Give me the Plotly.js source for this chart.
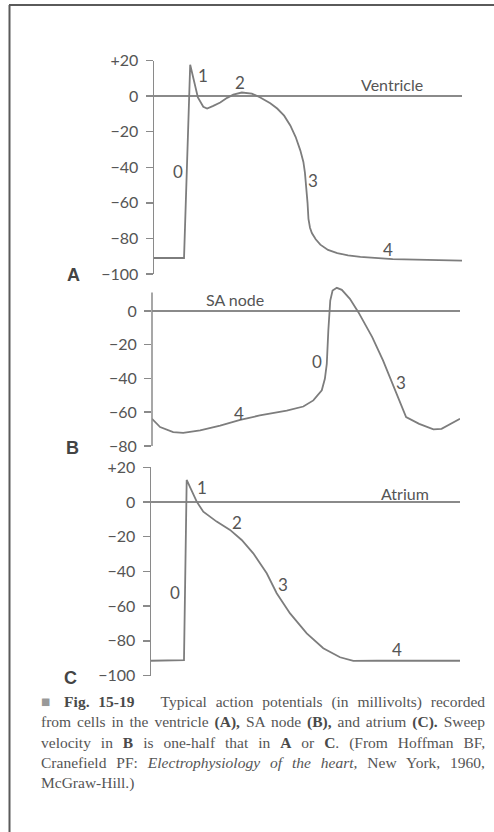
<!DOCTYPE html>
<html>
<head>
<meta charset="utf-8">
<script src="https://cdn.plot.ly/plotly-3.0.1.min.js"></script>
<style>
  html, body { margin: 0; padding: 0; background: #fff; }
  #wrap { position: relative; width: 494px; height: 832px; overflow: hidden; }
  #chart { position: absolute; left: 0; top: 0; width: 494px; height: 832px; }
  #caption { position: absolute; left: 41px; top: 692px; width: 444px;
    font-family: "Liberation Serif", "Times New Roman", serif; font-size: 15.5px;
    line-height: 20.3px; color: #555; }
  #caption .ln { text-align: justify; text-align-last: justify; white-space: nowrap; }
  #caption .last { text-align: left; text-align-last: left; }
  #caption .sq { color: #999; }
  #caption b { color: #4a4a4a; }
</style>
</head>
<body>
<div id="wrap">
  <div id="chart"></div>
  <div id="caption">
    <div class="ln"><span class="sq">&#9632;</span> <b>Fig. 15-19</b>&nbsp;&nbsp; Typical action potentials (in millivolts) recorded</div>
    <div class="ln">from cells in the ventricle <b>(A),</b> SA node <b>(B),</b> and atrium <b>(C).</b> Sweep</div>
    <div class="ln">velocity in <b>B</b> is one-half that in <b>A</b> or <b>C</b>. (From Hoffman BF,</div>
    <div class="ln">Cranefield PF: <i>Electrophysiology of the heart,</i> New York, 1960,</div>
    <div class="ln last">McGraw-Hill.)</div>
  </div>
</div>
<script>
// ---- Data (time in ms, membrane potential in mV) ----
// A: Ventricle
const ventTime = [0, 39, 47, 51, 57, 64, 69, 77, 86, 95, 103, 114, 127, 138, 151, 160, 169, 177, 184, 190, 194, 196, 198, 199.4, 200.6, 202.6, 205, 210, 216, 226, 238, 252, 268, 310, 400];
const ventMv   = [-91, -91, 17.6, 10.4, -0.8, -6, -7, -5.5, -3.6, -1, 0.8, 2, 1.4, -0.8, -4, -7, -11, -16.5, -23, -30.5, -37, -43, -52, -60, -69, -74, -77, -80.5, -83.5, -86.5, -88.2, -89.5, -90.4, -91.6, -92.5];
// B: SA node (sweep velocity one-half)
const saTime = [0, 21, 55, 81, 125, 177, 229, 280, 350, 393, 419, 441, 449, 454, 458, 463, 469, 480, 493, 514, 536, 572, 600, 628, 660, 694, 731, 752, 774, 800];
const saMv   = [-63.9, -68.8, -71.8, -72.2, -70.8, -67.9, -64.5, -61.9, -59, -56.6, -53, -47, -40.2, -31.3, -11.6, 6.2, 12.1, 13.7, 12.5, 7.2, -0.7, -15.5, -29.3, -45.1, -62.9, -66.9, -70.2, -69.8, -66.9, -63.9];
// C: Atrium
const atrTime = [0, 42.7, 46.2, 52.7, 59.2, 67.7, 85, 102.3, 117.4, 132.4, 149.8, 162.7, 180, 201.6, 223, 244.7, 261.9, 292.2, 400];
const atrMv   = [-91.5, -91.1, 12.7, 6.9, 0.2, -5.6, -11.3, -16.1, -21.9, -29.6, -41.1, -52.6, -64.2, -75.7, -84.3, -89.5, -91.6, -91.5, -91.5];

// Tick labels
const ticksAC = [20, 0, -20, -40, -60, -80, -100];
const ticksACText = ['+20', '0', '\u221220', '\u221240', '\u221260', '\u221280', '\u2212100'];
const ticksB = [0, -20, -40, -60, -80];
const ticksBText = ['0', '\u221220', '\u221240', '\u221260', '\u221280'];

// Phase labels [time, mV, text]
const phaseA = [[31, -42.3, '0'], [63.6, 11.5, '1'], [111.7, 7.6, '2'], [207, -47.3, '3'], [304, -86.5, '4']];
const phaseB = [[428.5, -29.9, '0'], [646, -42.4, '3'], [226, -60.7, '4']];
const phaseC = [[31, -52.4, '0'], [66, 8.1, '1'], [111.3, -12.1, '2'], [170.9, -47.8, '3'], [318.4, -85, '4']];
const names = [['Ventricle', 309, 5.3], ['SA node', 215.6, 5.6], ['Atrium', 328.8, 4]];

// ---- Styles ----
const W = 494, H = 832;
const px = v => v / W;
const py = v => (H - v) / H;
const lineCol = '#7d7d7d';
const axCol = '#8a8a8a';
const fam = 'Lato, "Noto Sans", sans-serif';
const tickFont = { family: fam, size: 16, color: '#555' };

const mk = (x, y, xa, ya) => ({
  x: x, y: y, xaxis: xa, yaxis: ya, type: 'scatter', mode: 'lines',
  line: { color: lineCol, width: 1.8 }, hoverinfo: 'skip', showlegend: false
});
const data = [
  mk(ventTime, ventMv, 'x', 'y'),
  mk(saTime, saMv, 'x2', 'y2'),
  mk(atrTime, atrMv, 'x3', 'y3')
];

const xBase = { showline: false, showticklabels: false, ticks: '', showgrid: false, zeroline: false, fixedrange: true };
const yBase = (vals, txt, range, dom, anchor, showline) => ({
  domain: dom, range: range, anchor: anchor,
  tickmode: 'array', tickvals: vals, ticktext: txt,
  ticks: 'outside', ticklen: 7, tickwidth: 1.5, tickcolor: axCol,
  tickfont: tickFont, ticklabelstandoff: 4,
  showline: showline, linecolor: axCol, linewidth: 1.5,
  zeroline: true, zerolinecolor: axCol, zerolinewidth: 1.5,
  showgrid: false, fixedrange: true
});

const annotations = [];
const addPhase = (arr, xr, yr) => arr.forEach(p => annotations.push({
  x: p[0], y: p[1], xref: xr, yref: yr, text: p[2], showarrow: false,
  font: { family: fam, size: 17, color: '#555' }, xanchor: 'center', yanchor: 'middle'
}));
addPhase(phaseA, 'x', 'y');
addPhase(phaseB, 'x2', 'y2');
addPhase(phaseC, 'x3', 'y3');
const refs = [['x', 'y'], ['x2', 'y2'], ['x3', 'y3']];
names.forEach((n, i) => annotations.push({
  x: n[1], y: n[2], xref: refs[i][0], yref: refs[i][1], text: n[0], showarrow: false, yshift: 2,
  font: { family: fam, size: 16, color: '#555' }, xanchor: 'center', yanchor: 'middle'
}));
[['A', 73, 275], ['B', 72, 448], ['C', 70, 678]].forEach(l => annotations.push({
  x: px(l[1]), y: py(l[2]), xref: 'paper', yref: 'paper', text: '<b>' + l[0] + '</b>', showarrow: false,
  font: { family: '"Liberation Sans", Arial, sans-serif', size: 18, color: '#444' }, xanchor: 'center', yanchor: 'middle'
}));

const layout = {
  width: W, height: H, margin: { l: 0, r: 0, t: 0, b: 0 },
  paper_bgcolor: '#fff', plot_bgcolor: 'rgba(0,0,0,0)', showlegend: false,
  xaxis:  Object.assign({}, xBase, { domain: [px(154), px(462)], range: [0, 400], anchor: 'y' }),
  xaxis2: Object.assign({}, xBase, { domain: [px(152), px(460)], range: [0, 800], anchor: 'y2' }),
  xaxis3: Object.assign({}, xBase, { domain: [px(151), px(460)], range: [0, 400], anchor: 'y3' }),
  yaxis:  yBase(ticksAC, ticksACText, [-100, 20], [py(274), py(60.5)], 'x', true),
  yaxis2: yBase(ticksB, ticksBText, [-80, 14.5], [py(446), py(286.5)], 'x2', false),
  yaxis3: yBase(ticksAC, ticksACText, [-100, 20], [py(675.5), py(467.3)], 'x3', true),
  annotations: annotations,
  shapes: [
    { type: 'line', xref: 'x2 domain', yref: 'y2', x0: 0, x1: 0, y0: -80, y1: 11, line: { color: axCol, width: 1.5 } },
    { type: 'line', xref: 'paper', yref: 'paper', x0: px(9), x1: 1, y0: py(5), y1: py(5), line: { color: '#5a5a5a', width: 2 } },
    { type: 'line', xref: 'paper', yref: 'paper', x0: px(9.5), x1: px(9.5), y0: 0, y1: py(5), line: { color: '#5a5a5a', width: 2 } }
  ]
};

Plotly.newPlot('chart', data, layout, { staticPlot: true, displayModeBar: false });
</script>
</body>
</html>
